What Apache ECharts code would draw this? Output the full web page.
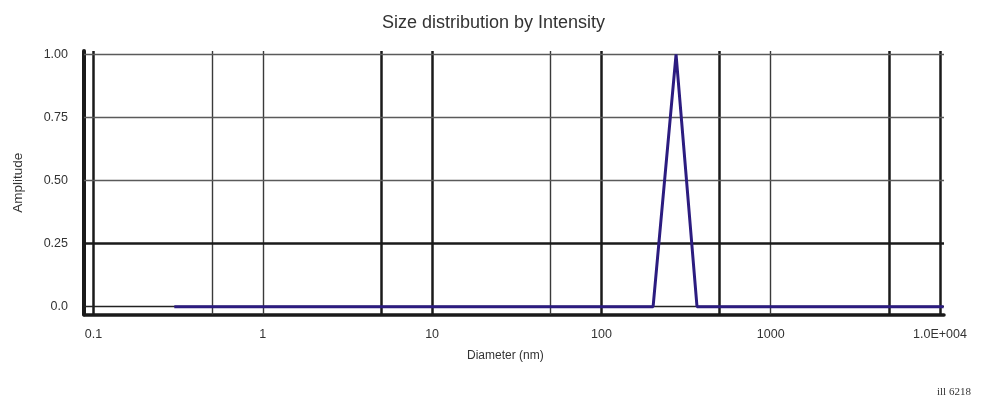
<!DOCTYPE html>
<html>
<head>
<meta charset="utf-8">
<script src="https://cdn.jsdelivr.net/npm/echarts@6/dist/echarts.min.js"></script>
<style>html,body{margin:0;padding:0;background:#fff}#c{width:987px;height:400px}</style>
</head>
<body>
<div id="c"></div>
<script>
// Data
var diameters = [0.3, 202, 276, 367, 10500];
var amplitudes = [0, 0, 1, 0, 0];
var xTickValues = [0.1, 1, 10, 100, 1000, 10000];
var xTickLabels = ['0.1', '1', '10', '100', '1000', '1.0E+004'];
var yTickValues = [0, 0.25, 0.5, 0.75, 1];
var yTickLabels = ['0.0', '0.25', '0.50', '0.75', '1.00'];
var vGridValues = [0.1, 0.5, 1, 5, 10, 50, 100, 500, 1000, 5000, 10000];
var vGridHeavy = [true, false, false, true, true, false, true, true, false, true, true];
var hGridValues = [0, 0.25, 0.5, 0.75, 1];
var hGridHeavy = [false, true, false, false, false];

var chart = echarts.init(document.getElementById('c'), null, {renderer: 'canvas'});
var font = 'Liberation Sans, Arial, sans-serif';

var vLines = vGridValues.map(function (v, i) {
  return {xAxis: v, lineStyle: {color: vGridHeavy[i] ? '#1a1a1a' : '#3a3a3a', width: vGridHeavy[i] ? 2.5 : 1.4, type: 'solid'}};
});
var hLines = hGridValues.map(function (v, i) {
  return {yAxis: v, lineStyle: {color: hGridHeavy[i] ? '#1a1a1a' : (i === 0 ? '#222222' : '#5a5a5a'), width: hGridHeavy[i] ? 2.5 : 1.4, type: 'solid'}};
});

chart.setOption({
  animation: false,
  backgroundColor: '#ffffff',
  title: {
    text: 'Size distribution by Intensity',
    left: 'center',
    top: 9,
    textStyle: {fontFamily: font, fontSize: 18, fontWeight: 'normal', color: '#333'}
  },
  grid: {left: 84, right: 43, top: 51, bottom: 85.5},
  xAxis: {
    type: 'log',
    logBase: 10,
    min: 0.08785,
    max: 10560,
    axisLine: {show: true, onZero: false, lineStyle: {color: '#1a1a1a', width: 3.5}},
    axisTick: {show: false},
    splitLine: {show: false},
    axisLabel: {
      show: true,
      customValues: xTickValues,
      margin: 14,
      fontFamily: font, fontSize: 12.5, color: '#333',
      formatter: function (v) {
        for (var i = 0; i < xTickValues.length; i++) {
          if (Math.abs(Math.log10(v) - Math.log10(xTickValues[i])) < 1e-6) return xTickLabels[i];
        }
        return '';
      }
    }
  },
  yAxis: {
    type: 'value',
    min: -0.031,
    max: 1.013,
    name: 'Amplitude',
    nameLocation: 'middle',
    nameGap: 59,
    nameTextStyle: {fontFamily: font, fontSize: 13.5, color: '#333'},
    axisLine: {show: true, onZero: false, lineStyle: {color: '#1a1a1a', width: 4}},
    axisTick: {show: false},
    splitLine: {show: false},
    axisLabel: {
      show: true,
      customValues: yTickValues,
      margin: 16,
      fontFamily: font, fontSize: 12.5, color: '#333',
      formatter: function (v) {
        for (var i = 0; i < yTickValues.length; i++) {
          if (Math.abs(v - yTickValues[i]) < 1e-6) return yTickLabels[i];
        }
        return '';
      }
    }
  },
  graphic: [
    {type: 'text', left: 467, top: 350, style: {text: 'Diameter (nm)', font: '12px ' + font, fill: '#333'}},
    {type: 'text', left: 937, top: 387, style: {text: 'ill 6218', font: '11px Liberation Serif, DejaVu Serif, serif', fill: '#333'}}
  ],
  series: [
    {
      type: 'line',
      z: 1,
      data: [],
      silent: true,
      markLine: {silent: true, symbol: 'none', label: {show: false}, animation: false, data: vLines.concat(hLines)}
    },
    {
      type: 'line',
      z: 5,
      data: diameters.map(function (d, i) { return [d, amplitudes[i]]; }),
      showSymbol: false,
      symbol: 'none',
      lineStyle: {color: '#2c1c80', width: 3},
      silent: true
    }
  ]
});
</script>
</body>
</html>
